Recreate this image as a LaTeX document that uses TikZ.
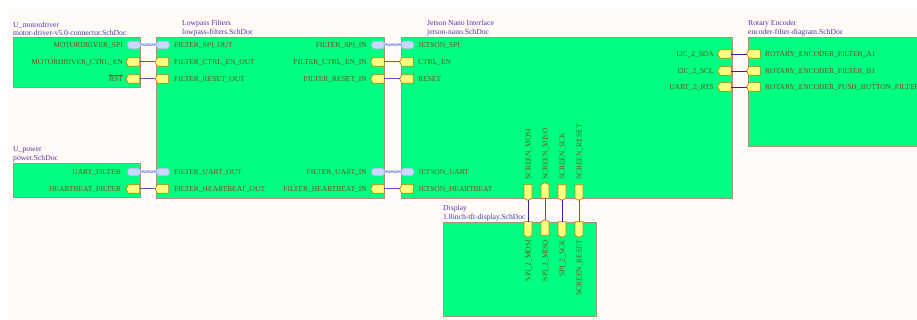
\documentclass[tikz,border=0pt]{standalone}
\usepackage{fontspec}
\setmainfont{Liberation Serif}
\usetikzlibrary{shapes.symbols,decorations.pathmorphing}
\definecolor{sheetgreen}{HTML}{00FF80}
\definecolor{sheetedge}{HTML}{A8917A}
\definecolor{pagecream}{HTML}{FFFAF5}
\definecolor{portfill}{HTML}{FFFF80}
\definecolor{portedge}{HTML}{B8860B}
\definecolor{pintext}{HTML}{70501A}
\definecolor{titletext}{HTML}{5A32A8}
\definecolor{wirepurple}{HTML}{6A4BB0}
\definecolor{wirenavy}{HTML}{3C1C9C}
\definecolor{harnessfill}{HTML}{C8D8FF}
\definecolor{harnessedge}{HTML}{AEBEF0}
\tikzset{
  sheet/.style={draw=sheetedge,fill=sheetgreen,line width=0.9pt,anchor=north west,inner sep=0pt,outer sep=0pt},
  title/.style={text=titletext,font=\fontsize{7.65}{8.4}\selectfont,align=left,anchor=south west,inner sep=0pt},
  pin/.style={text=pintext,font=\fontsize{7.5}{9}\selectfont,inner sep=0pt,text height=5pt,text depth=0pt},
  pinl/.style={pin,anchor=east},
  pinr/.style={pin,anchor=west},
  pinup/.style={pin,rotate=90,anchor=west},
  pindown/.style={pin,rotate=90,anchor=east},
  port/.style={shape=signal,signal from=nowhere,draw=portedge,fill=portfill,line width=0.7pt,inner sep=0pt,outer sep=0pt,signal pointer angle=125},
  portw/.style={port,signal to=west,minimum width=13.5pt,minimum height=8.5pt},
  portd/.style={port,signal to=south,minimum width=8pt,minimum height=13.5pt},
  portu/.style={port,signal to=north,minimum width=8pt,minimum height=13.5pt},
  bus/.style={draw=harnessedge,fill=harnessfill,line width=0.6pt,minimum width=12.5pt,minimum height=7.5pt,inner sep=0pt,outer sep=0pt,rounded corners=3pt},
  wire/.style={draw=wirepurple,line width=1pt},
  wiren/.style={draw=wirenavy,line width=0.8pt},
  busline/.style={draw=harnessfill!80!harnessedge,line width=3pt},
  buswave/.style={draw=wirepurple!45!harnessedge,line width=0.6pt,decorate,decoration={snake,amplitude=0.7pt,segment length=6pt}},
}
\begin{document}
\begin{tikzpicture}[x=1pt,y=-1pt]
  \clip (0,0) rectangle (917,320);
  \fill[white] (0,0) rectangle (917,320);
  \fill[pagecream] (9,8) rectangle (917,320);

  % sheets
  \node[sheet,minimum width=127pt,minimum height=50pt] (motordriver) at (13,37) {};
  \node[sheet,minimum width=228pt,minimum height=161pt] (lowpass) at (156.5,37) {};
  \node[sheet,minimum width=331pt,minimum height=161pt] (jetson) at (401,37) {};
  \node[sheet,minimum width=180pt,minimum height=109pt] (encoder) at (748,37) {};
  \node[sheet,minimum width=127pt,minimum height=34pt] (power) at (13,163) {};
  \node[sheet,minimum width=153pt,minimum height=94pt] (display) at (443,222) {};

  % titles
  \node[title] (motordrivertitle) at (13,36) {U\_motordriver\\motor-driver-v5.0-connector.SchDoc};
  \node[title] (lowpasstitle) at (182,36) {Lowpass Filters\\lowpass-filters.SchDoc};
  \node[title] (jetsontitle) at (427,36) {Jetson Nano Interface\\jetson-nano.SchDoc};
  \node[title] (encodertitle) at (748,36) {Rotary Encoder\\encoder-filter-diagram.SchDoc};
  \node[title] (powertitle) at (13,162) {U\_power\\power.SchDoc};
  \node[title] (displaytitle) at (443,221) {Display\\1.8inch-tft-display.SchDoc};

  % harness pills
  \node[bus] (mspi) at (134,45) {};
  \node[bus] (fspiout) at (163,45) {};
  \node[bus] (fspiin) at (378,45) {};
  \node[bus] (jspi) at (407.5,45) {};
  \node[bus] (puart) at (134,172) {};
  \node[bus] (fuartout) at (163,172) {};
  \node[bus] (fuartin) at (378,172) {};
  \node[bus] (juart) at (407.5,172) {};

  % ports
  \node[portw] (mctrl) at (134,62) {};
  \node[portw] (mrst) at (134,79) {};
  \node[portw] (fctrlout) at (163,62) {};
  \node[portw] (fresetout) at (163,79) {};
  \node[portw] (fctrlin) at (378.5,62) {};
  \node[portw] (fresetin) at (378.5,79) {};
  \node[portw] (jctrl) at (407.5,62) {};
  \node[portw] (jreset) at (407.5,79) {};
  \node[portw] (pbeat) at (134,189) {};
  \node[portw] (fbeatout) at (163,189) {};
  \node[portw] (fbeatin) at (378.5,189) {};
  \node[portw] (jbeat) at (407.5,189) {};
  \node[portw] (jsda) at (725.5,54) {};
  \node[portw] (jscl) at (725.5,71) {};
  \node[portw] (jrts) at (725.5,87) {};
  \node[portw] (ea) at (754.5,54) {};
  \node[portw] (eb) at (754.5,71) {};
  \node[portw] (epush) at (754.5,87) {};
  \node[portd] (jmosi) at (528,191.5) {};
  \node[portu] (jmiso) at (545,191.5) {};
  \node[portd] (jsck) at (562,191.5) {};
  \node[portd] (jscreset) at (579,191.5) {};
  \node[portd] (dmosi) at (528,228.5) {};
  \node[portu] (dmiso) at (545,228.5) {};
  \node[portd] (dsck) at (562,228.5) {};
  \node[portd] (dscreset) at (579,228.5) {};

  % harness lines
  \draw[busline] (mspi) -- (fspiout);
  \draw[buswave] (mspi) -- (fspiout);
  \draw[busline] (fspiin) -- (jspi);
  \draw[buswave] (fspiin) -- (jspi);
  \draw[busline] (puart) -- (fuartout);
  \draw[buswave] (puart) -- (fuartout);
  \draw[busline] (fuartin) -- (juart);
  \draw[buswave] (fuartin) -- (juart);

  % wires
  \draw[wire] (mctrl.east) -- (fctrlout.west);
  \draw[wire] (mrst.east) -- (fresetout.west);
  \draw[wire] (fctrlin.east) -- (jctrl.west);
  \draw[wire] (fresetin.east) -- (jreset.west);
  \draw[wire] (pbeat.east) -- (fbeatout.west);
  \draw[wire] (fbeatin.east) -- (jbeat.west);
  \draw[wiren] (jsda.east) -- (ea.west);
  \draw[wiren] (jscl.east) -- (eb.west);
  \draw[wiren] (jrts.east) -- (epush.west);
  \draw[wiren] (jmosi.south) -- (dmosi.north);
  \draw[wire] (jmiso.south) -- (dmiso.north);
  \draw[wiren] (jsck.south) -- (dsck.north);
  \draw[wire] (jscreset.south) -- (dscreset.north);

  % lecters left of ports
  \node[pinl] (tmspi) at (123,45) {MOTORDRIVER\_SPI};
  \node[pinl] (tmctrl) at (123,62) {MOTORDRIVER\_CTRL\_EN};
  \node[pinl] (tmrst) at (123,79) {$\overline{\mbox{RST}}$};
  \node[pinl] (tpuart) at (121,172) {UART\_FILTER};
  \node[pinl] (tpbeat) at (121,189) {HEARTBEAT\_FILTER};
  \node[pinl] (tfspiin) at (367,45) {FILTER\_SPI\_IN};
  \node[pinl] (tfctrlin) at (367,62) {FILTER\_CTRL\_EN\_IN};
  \node[pinl] (tfresetin) at (367,79) {FILTER\_RESET\_IN};
  \node[pinl] (tfuartin) at (367,172) {FILTER\_UART\_IN};
  \node[pinl] (tfbeatin) at (367,189) {FILTER\_HEARTBEAT\_IN};
  \node[pinl] (tjsda) at (714,54) {I2C\_2\_SDA};
  \node[pinl] (tjscl) at (714,71) {I2C\_2\_SCL};
  \node[pinl] (tjrts) at (714,87) {UART\_2\_RTS};

  % lecters right of ports
  \node[pinr] (tfspiout) at (174,45) {FILTER\_SPI\_OUT};
  \node[pinr] (tfctrlout) at (174,62) {FILTER\_CTRL\_EN\_OUT};
  \node[pinr] (tfresetout) at (174,79) {FILTER\_RESET\_OUT};
  \node[pinr] (tfuartout) at (174,172) {FILTER\_UART\_OUT};
  \node[pinr] (tfbeatout) at (174,189) {FILTER\_HEARTBEAT\_OUT};
  \node[pinr] (tjspi) at (418,45) {JETSON\_SPI};
  \node[pinr] (tjctrl) at (418,62) {CTRL\_EN};
  \node[pinr] (tjreset) at (418,79) {RESET};
  \node[pinr] (tjuart) at (418,172) {JETSON\_UART};
  \node[pinr] (tjbeat) at (418,189) {JETSON\_HEARTBEAT};
  \node[pinr] (tea) at (765,54) {ROTARY\_ENCODER\_FILTER\_A1};
  \node[pinr] (teb) at (765,71) {ROTARY\_ENCODER\_FILTER\_B1};
  \node[pinr] (tepush) at (765,87) {ROTARY\_ENCODER\_PUSH\_BUTTON\_FILTER};

  % lecters vertical
  \node[pinup] (tjmosi) at (528,180) {SCREEN\_MOSI};
  \node[pinup] (tjmiso) at (545,180) {SCREEN\_MISO};
  \node[pinup] (tjsck) at (562,180) {SCREEN\_SCK};
  \node[pinup] (tjscreset) at (579,180) {SCREEN\_RESET};
  \node[pindown] (tdmosi) at (528,240) {SPI\_2\_MOSI};
  \node[pindown] (tdmiso) at (545,240) {SPI\_2\_MISO};
  \node[pindown] (tdsck) at (562,240) {SPI\_2\_SCK};
  \node[pindown] (tdscreset) at (579,240) {SCREEN\_RESET};
\end{tikzpicture}
\end{document}
